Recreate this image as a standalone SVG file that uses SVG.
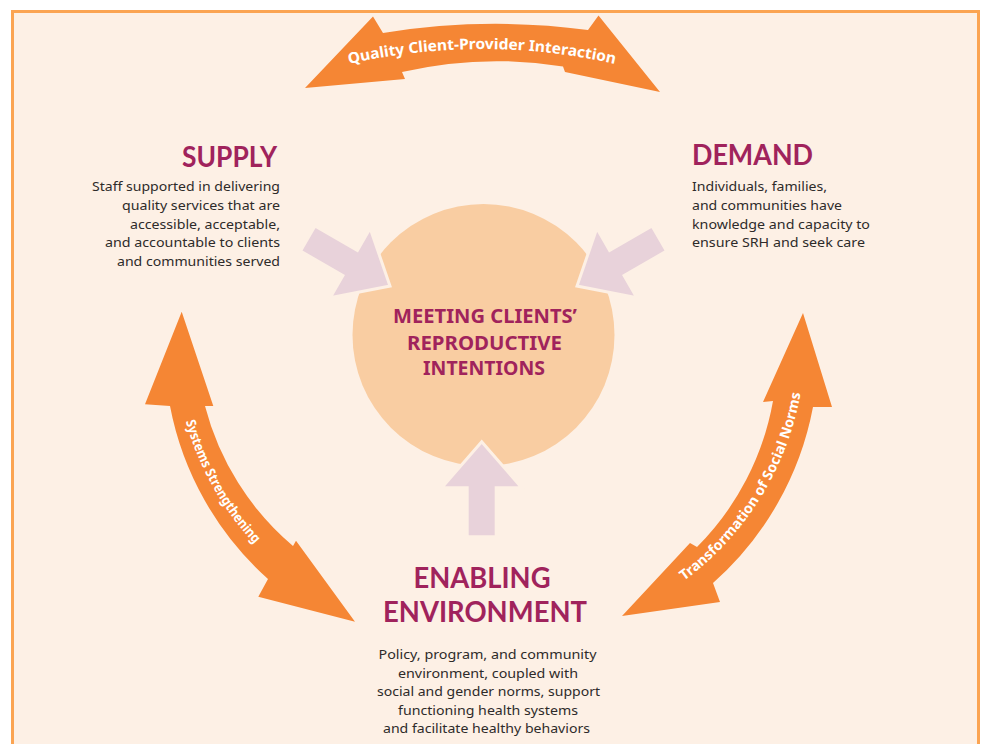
<svg xmlns="http://www.w3.org/2000/svg" xmlns:xlink="http://www.w3.org/1999/xlink" width="985" height="744" viewBox="0 0 985 744">
  <style>
    .title { font-family: Lato, "Noto Sans", sans-serif; font-weight: 700; fill: #A0235C; font-size: 28px; }
    .body { font-family: "Noto Sans", "Open Sans", sans-serif; font-size: 13px; fill: #2E2B2A; }
    .core { font-family: "Noto Sans", "Open Sans", sans-serif; font-weight: 700; fill: #A0235C; font-size: 20px; }
    .band { font-family: "Noto Sans", "Open Sans", sans-serif; font-weight: 700; fill: #FFFFFF; }
    .orange { fill: #F58634; }
    .pink { fill: #E8D2DA; stroke: #FDF0E5; stroke-width: 3; stroke-linejoin: miter; }
  </style>
  <defs>
    <!-- block arrow pointing along +x with its tip at the origin -->
    <polygon id="push" points="-95,-14.5 -46,-14.5 -46,-40 0,0 -46,40 -46,14.5 -95,14.5"/>
    <path id="arcTop" d="M 329.5,68.7 A 601 601 0 0 1 634.5,68.7"/>
    <path id="arcLeft" d="M 175.2,352.3 A 296 296 0 0 0 308.1,589.1"/>
    <path id="arcRight" d="M 610.2,620.2 A 296 296 0 0 0 803.2,309.5"/>
  </defs>

  <!-- page and frame -->
  <rect x="0" y="0" width="985" height="744" fill="#FFFFFF"/>
  <rect x="12.5" y="11.5" width="966" height="760" fill="#FDF0E5" stroke="#FBA452" stroke-width="3"/>

  <!-- central goal -->
  <g id="goal">
    <circle cx="483.5" cy="335" r="131" fill="#F9CDA2"/>
  </g>

  <g id="connectors">
    <!-- inward pushes toward the goal -->
    <use xlink:href="#push" class="pink" transform="translate(390,286) rotate(30)"/>
    <use xlink:href="#push" class="pink" transform="translate(577,286) rotate(150)"/>
    <use xlink:href="#push" class="pink" transform="translate(481.7,441.7) rotate(-90)"/>

    <!-- top: supply to demand -->
    <path class="orange" d="M 305,88 L 373,16.5 L 383,33 A 700 700 0 0 1 588,30 L 598.5,15.5 L 660,92 L 565,72 L 563,66.5 A 420 420 0 0 0 402,72 L 405,79 Z"/>
    <text class="band" font-size="15"><textPath xlink:href="#arcTop" startOffset="50%" text-anchor="middle" textLength="268" lengthAdjust="spacingAndGlyphs">Quality Client-Provider Interaction</textPath></text>

    <!-- left: supply to enabling environment -->
    <path class="orange" d="M 181.7,311.7 L 213.3,406 L 205,406 A 273.5 273.5 0 0 0 293,546 L 296,540.7 L 355,621.7 L 258.3,596.7 L 268,579 A 310 310 0 0 1 170,406 L 145,404.3 Z"/>
    <text class="band" font-size="13.5"><textPath xlink:href="#arcLeft" startOffset="50%" text-anchor="middle" textLength="142" lengthAdjust="spacingAndGlyphs">Systems Strengthening</textPath></text>

    <!-- right: enabling environment to demand -->
    <path class="orange" d="M 803,313 L 832,407 L 813,407 A 312 312 0 0 1 713,583 L 720,602 L 622,616 L 690,543 L 697,547 A 274 274 0 0 0 773,401 L 763,402 Z"/>
    <text class="band" font-size="14"><textPath xlink:href="#arcRight" startOffset="50%" text-anchor="middle" textLength="226" lengthAdjust="spacingAndGlyphs">Transformation of Social Norms</textPath></text>
  </g>

  <g id="goal-label">
    <text class="core" text-anchor="middle" x="485" y="323" textLength="184" lengthAdjust="spacingAndGlyphs">MEETING CLIENTS’</text>
    <text class="core" text-anchor="middle" x="484.5" y="350" textLength="155" lengthAdjust="spacingAndGlyphs">REPRODUCTIVE</text>
    <text class="core" text-anchor="middle" x="484" y="375" textLength="122" lengthAdjust="spacingAndGlyphs">INTENTIONS</text>
  </g>

  <g id="supply">
    <text class="title" text-anchor="end" x="277" y="167" textLength="95" lengthAdjust="spacingAndGlyphs">SUPPLY</text>
    <text class="body" text-anchor="end" x="280" y="191" textLength="188" lengthAdjust="spacingAndGlyphs">Staff supported in delivering</text>
    <text class="body" text-anchor="end" x="280" y="209.75" textLength="158" lengthAdjust="spacingAndGlyphs">quality services that are</text>
    <text class="body" text-anchor="end" x="280" y="228.5" textLength="150" lengthAdjust="spacingAndGlyphs">accessible, acceptable,</text>
    <text class="body" text-anchor="end" x="280" y="247.25" textLength="175" lengthAdjust="spacingAndGlyphs">and accountable to clients</text>
    <text class="body" text-anchor="end" x="280" y="266" textLength="163" lengthAdjust="spacingAndGlyphs">and communities served</text>
  </g>

  <g id="demand">
    <text class="title" x="692" y="165" textLength="121" lengthAdjust="spacingAndGlyphs">DEMAND</text>
    <text class="body" x="692" y="191" textLength="135" lengthAdjust="spacingAndGlyphs">Individuals, families,</text>
    <text class="body" x="692" y="209.75" textLength="150" lengthAdjust="spacingAndGlyphs">and communities have</text>
    <text class="body" x="692" y="228.5" textLength="178" lengthAdjust="spacingAndGlyphs">knowledge and capacity to</text>
    <text class="body" x="692" y="247.25" textLength="173" lengthAdjust="spacingAndGlyphs">ensure SRH and seek care</text>
  </g>

  <g id="enabling-environment">
    <text class="title" text-anchor="middle" x="482" y="588" textLength="137" lengthAdjust="spacingAndGlyphs">ENABLING</text>
    <text class="title" text-anchor="middle" x="485" y="622" textLength="204" lengthAdjust="spacingAndGlyphs">ENVIRONMENT</text>
    <text class="body" text-anchor="middle" x="487.5" y="659" textLength="218" lengthAdjust="spacingAndGlyphs">Policy, program, and community</text>
    <text class="body" text-anchor="middle" x="488" y="677.5" textLength="180" lengthAdjust="spacingAndGlyphs">environment, coupled with</text>
    <text class="body" text-anchor="middle" x="488.5" y="696" textLength="223" lengthAdjust="spacingAndGlyphs">social and gender norms, support</text>
    <text class="body" text-anchor="middle" x="488" y="714.5" textLength="180" lengthAdjust="spacingAndGlyphs">functioning health systems</text>
    <text class="body" text-anchor="middle" x="486.5" y="733" textLength="207" lengthAdjust="spacingAndGlyphs">and facilitate healthy behaviors</text>
  </g>
</svg>
